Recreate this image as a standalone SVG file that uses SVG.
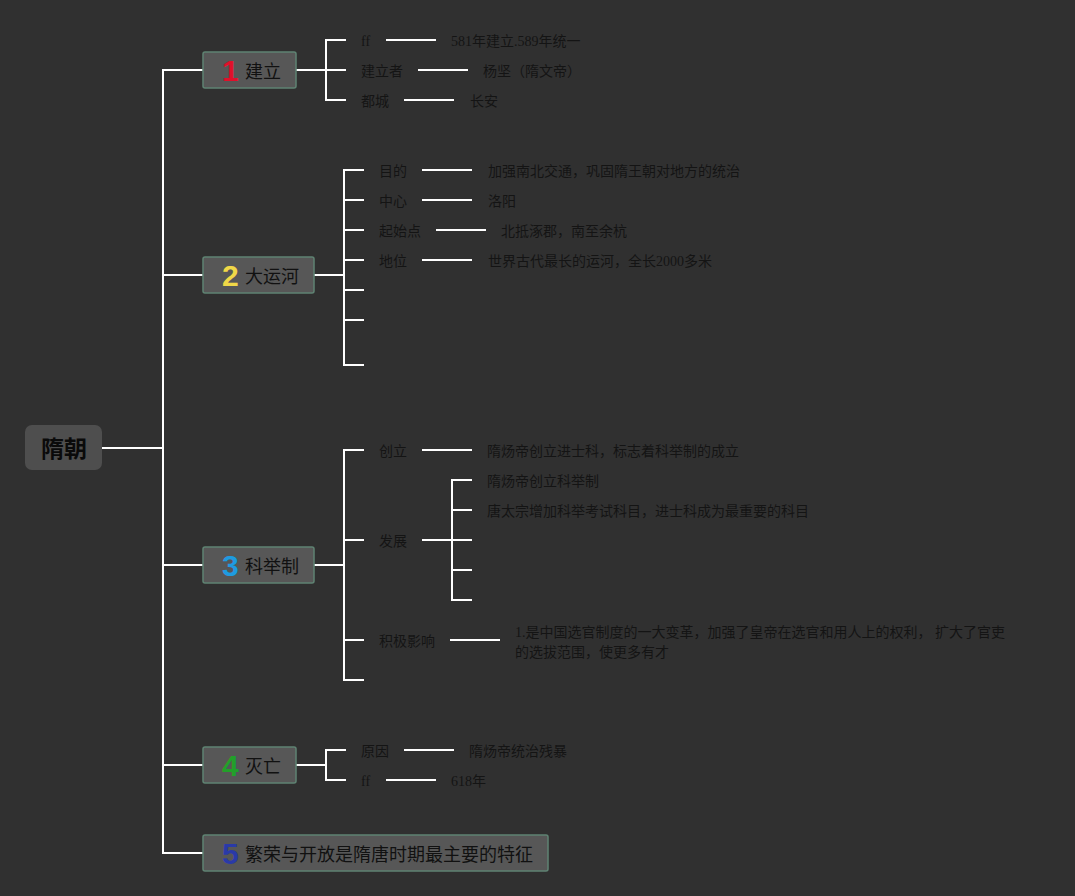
<svg xmlns="http://www.w3.org/2000/svg" width="1075" height="896" viewBox="0 0 1075 896">
<style>
.bg{fill:#303030}
.conn{fill:none;stroke:#ffffff;stroke-width:2}
.box{fill:#575757;stroke:#5f8373;stroke-width:1.5}
.num{font-family:"Liberation Sans",Arial,sans-serif;font-weight:bold;font-size:30px}
.main{font-family:"Noto Sans CJK SC",sans-serif;font-size:18px;fill:#111111}
.sub{font-family:"Liberation Serif","Noto Sans CJK SC",serif;font-size:14px;fill:#141414}
.root{font-family:"Noto Sans CJK SC",sans-serif;font-size:23px;font-weight:bold;fill:#0a0a0a}
</style>
<rect class="bg" x="0" y="0" width="1075" height="896"/>
<g id="connectors">
<path class="conn" d="M102 448 H163 M203 70 H163 V853 H203 M163 275 H203 M163 565 H203 M163 765 H203"/>
<path class="conn" d="M296 70 H346 M346 40 H326 V100 H346"/>
<path class="conn" d="M386 40 H436 M418 70 H468 M404 100 H454"/>
<path class="conn" d="M314 275 H344 M364 170 H344 V365 H364 M344 200 H364 M344 230 H364 M344 260 H364 M344 290 H364 M344 320 H364"/>
<path class="conn" d="M422 170 H472 M422 200 H472 M436 230 H486 M422 260 H472"/>
<path class="conn" d="M314 565 H344 M364 450 H344 V680 H364 M344 540 H364 M344 640 H364"/>
<path class="conn" d="M422 450 H472 M422 540 H472 M472 480 H452 V600 H472 M452 510 H472 M452 570 H472 M450 640 H500"/>
<path class="conn" d="M296 765 H326 M346 750 H326 V780 H346 M404 750 H454 M386 780 H436"/>
</g>
<g id="root">
<rect x="25" y="425" width="77" height="45" rx="7" fill="#4e4e4e"/>
<text class="root" x="64" y="457" text-anchor="middle">隋朝</text>
</g>
<g id="n1">
<rect class="box" x="203" y="52" width="93" height="36" rx="2"/>
<text class="num" x="222" y="81" fill="#e0102a">1</text>
<text class="main" x="245" y="78">建立</text>
</g>
<g id="n1-children">
<text class="sub" x="361" y="46">ff</text>
<text class="sub" x="451" y="46">581年建立.589年统一</text>
<text class="sub" x="361" y="76">建立者</text>
<text class="sub" x="483" y="76">杨坚（隋文帝）</text>
<text class="sub" x="361" y="106">都城</text>
<text class="sub" x="470" y="106">长安</text>
</g>
<g id="n2">
<rect class="box" x="203" y="257" width="111" height="36" rx="2"/>
<text class="num" x="222" y="286" fill="#f0d848">2</text>
<text class="main" x="245" y="283">大运河</text>
</g>
<g id="n2-children">
<text class="sub" x="379" y="176">目的</text>
<text class="sub" x="488" y="176">加强南北交通，巩固隋王朝对地方的统治</text>
<text class="sub" x="379" y="206">中心</text>
<text class="sub" x="488" y="206">洛阳</text>
<text class="sub" x="379" y="236">起始点</text>
<text class="sub" x="501" y="236">北抵涿郡，南至余杭</text>
<text class="sub" x="379" y="266">地位</text>
<text class="sub" x="488" y="266">世界古代最长的运河，全长2000多米</text>
</g>
<g id="n3">
<rect class="box" x="203" y="547" width="111" height="36" rx="2"/>
<text class="num" x="222" y="576" fill="#1e9be0">3</text>
<text class="main" x="245" y="573">科举制</text>
</g>
<g id="n3-children">
<text class="sub" x="379" y="456">创立</text>
<text class="sub" x="487" y="456">隋炀帝创立进士科，标志着科举制的成立</text>
<text class="sub" x="379" y="546">发展</text>
<text class="sub" x="487" y="486">隋炀帝创立科举制</text>
<text class="sub" x="487" y="516">唐太宗增加科举考试科目，进士科成为最重要的科目</text>
<text class="sub" x="379" y="646">积极影响</text>
<text class="sub" x="515" y="637">1.是中国选官制度的一大变革，加强了皇帝在选官和用人上的权利， 扩大了官吏</text>
<text class="sub" x="515" y="657">的选拔范围，使更多有才</text>
</g>
<g id="n4">
<rect class="box" x="203" y="747" width="93" height="36" rx="2"/>
<text class="num" x="222" y="776" fill="#22a02a">4</text>
<text class="main" x="245" y="773">灭亡</text>
</g>
<g id="n4-children">
<text class="sub" x="361" y="756">原因</text>
<text class="sub" x="469" y="756">隋炀帝统治残暴</text>
<text class="sub" x="361" y="786">ff</text>
<text class="sub" x="451" y="786">618年</text>
</g>
<g id="n5">
<rect class="box" x="203" y="835" width="345" height="36" rx="2"/>
<text class="num" x="222" y="864" fill="#2a3aa8">5</text>
<text class="main" x="245" y="861">繁荣与开放是隋唐时期最主要的特征</text>
</g>
</svg>
